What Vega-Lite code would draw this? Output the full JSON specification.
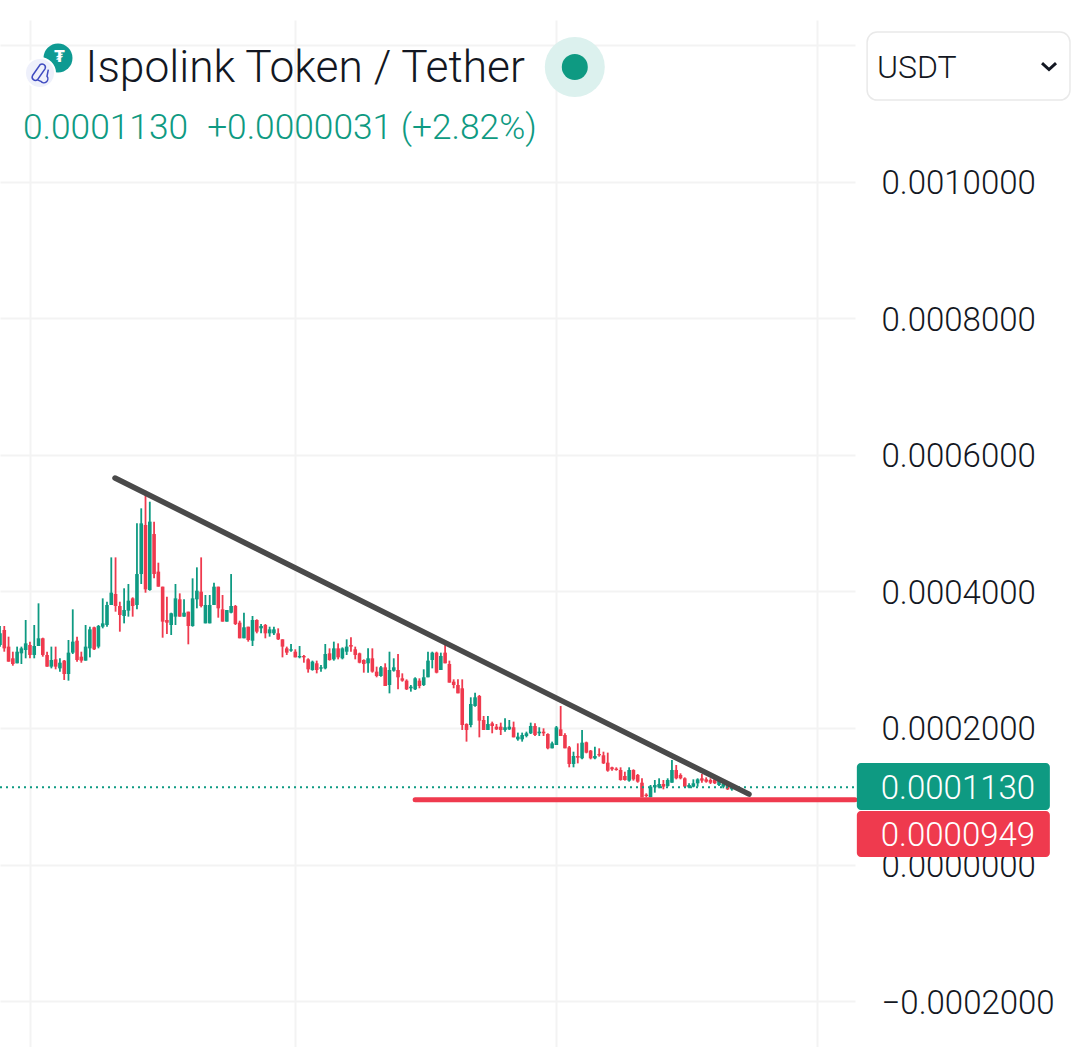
{"$schema":"https://vega.github.io/schema/vega-lite/v6.json","width":855,"height":1027,"autosize":{"type":"none"},"padding":{"left":0,"top":20,"right":219,"bottom":0},"background":"#ffffff","config":{"view":{"stroke":null}},
"datasets":{
"candles":[
{"d":0,"o":0.0003214,"h":0.0003492,"l":0.000319,"c":0.0003385},{"d":1,"o":0.0003434,"h":0.0003492,"l":0.0003116,"c":0.0003165},{"d":2,"o":0.000319,"h":0.0003336,"l":0.000297,"c":0.000297},{"d":3,"o":0.0003019,"h":0.0003116,"l":0.0002911,"c":0.0002936},{"d":4,"o":0.0002946,"h":0.000319,"l":0.0002946,"c":0.0003116},{"d":5,"o":0.0003092,"h":0.000319,"l":0.0002936,"c":0.0003165},{"d":6,"o":0.0003141,"h":0.000358,"l":0.0003019,"c":0.0003238},{"d":7,"o":0.0003214,"h":0.0003263,"l":0.0003019,"c":0.0003068},{"d":8,"o":0.0003068,"h":0.0003507,"l":0.0003019,"c":0.0003199},{"d":9,"o":0.0003199,"h":0.0003824,"l":0.0003199,"c":0.0003312},
{"d":10,"o":0.0003312,"h":0.0003321,"l":0.0003043,"c":0.0003068},{"d":11,"o":0.0003068,"h":0.0003116,"l":0.0002897,"c":0.0002897},{"d":12,"o":0.0002897,"h":0.000319,"l":0.0002872,"c":0.0002994},{"d":13,"o":0.0003004,"h":0.000319,"l":0.0002858,"c":0.0002897},{"d":14,"o":0.0002872,"h":0.0003019,"l":0.0002824,"c":0.0002955},{"d":15,"o":0.0002985,"h":0.0002994,"l":0.0002702,"c":0.0002789},{"d":16,"o":0.0002789,"h":0.0003287,"l":0.0002692,"c":0.0003102},{"d":17,"o":0.0003102,"h":0.0003736,"l":0.0003082,"c":0.0003263},{"d":18,"o":0.0003277,"h":0.0003336,"l":0.000297,"c":0.0002994},{"d":19,"o":0.0003043,"h":0.0003116,"l":0.0002955,"c":0.0002985},
{"d":20,"o":0.0002985,"h":0.0003507,"l":0.0002985,"c":0.000319},{"d":21,"o":0.0003165,"h":0.0003482,"l":0.0003033,"c":0.0003443},{"d":22,"o":0.0003473,"h":0.0003482,"l":0.0003141,"c":0.0003151},{"d":23,"o":0.000319,"h":0.0003507,"l":0.0003165,"c":0.0003492},{"d":24,"o":0.0003482,"h":0.0003897,"l":0.0003458,"c":0.0003531},{"d":25,"o":0.0003507,"h":0.0003848,"l":0.0003482,"c":0.00038},{"d":26,"o":0.00038,"h":0.0004497,"l":0.00038,"c":0.000398},{"d":27,"o":0.0003961,"h":0.0004497,"l":0.0003702,"c":0.0003785},{"d":28,"o":0.0003785,"h":0.0003848,"l":0.0003409,"c":0.0003653},{"d":29,"o":0.0003639,"h":0.0004044,"l":0.0003531,"c":0.0003726},
{"d":30,"o":0.0003717,"h":0.0004107,"l":0.0003629,"c":0.0003863},{"d":31,"o":0.0003897,"h":0.0003912,"l":0.0003629,"c":0.0003785},{"d":32,"o":0.00038,"h":0.0004995,"l":0.0003736,"c":0.0004253},{"d":33,"o":0.0004253,"h":0.0005215,"l":0.0004107,"c":0.0004995},{"d":34,"o":0.0004971,"h":0.0005473,"l":0.000398,"c":0.0004029},{"d":35,"o":0.0004019,"h":0.0005312,"l":0.0004009,"c":0.000502},{"d":36,"o":0.0004839,"h":0.000502,"l":0.000419,"c":0.0004253},{"d":37,"o":0.0004288,"h":0.0004419,"l":0.0004068,"c":0.0004068},{"d":38,"o":0.0004068,"h":0.0004068,"l":0.0003321,"c":0.0003556},{"d":39,"o":0.000358,"h":0.0003922,"l":0.0003375,"c":0.0003541},
{"d":40,"o":0.0003507,"h":0.0003687,"l":0.000336,"c":0.0003678},{"d":41,"o":0.0003629,"h":0.0004107,"l":0.0003507,"c":0.0003897},{"d":42,"o":0.0003883,"h":0.000397,"l":0.0003629,"c":0.0003629},{"d":43,"o":0.0003629,"h":0.0003883,"l":0.0003629,"c":0.0003687},{"d":44,"o":0.0003702,"h":0.0003702,"l":0.0003224,"c":0.0003492},{"d":45,"o":0.0003492,"h":0.000419,"l":0.0003482,"c":0.0003897},{"d":46,"o":0.0003883,"h":0.0004351,"l":0.0003751,"c":0.0004009},{"d":47,"o":0.0003995,"h":0.0004497,"l":0.0003765,"c":0.0003785},{"d":48,"o":0.0003531,"h":0.0003946,"l":0.0003531,"c":0.00038},{"d":49,"o":0.0003531,"h":0.0003946,"l":0.0003531,"c":0.00038},
{"d":50,"o":0.00038,"h":0.0004127,"l":0.00038,"c":0.0004068},{"d":51,"o":0.0004068,"h":0.0004068,"l":0.0003614,"c":0.0003751},{"d":52,"o":0.0003736,"h":0.0003946,"l":0.0003556,"c":0.0003556},{"d":53,"o":0.0003556,"h":0.0003726,"l":0.0003556,"c":0.0003726},{"d":54,"o":0.0003687,"h":0.0004253,"l":0.0003678,"c":0.0003785},{"d":55,"o":0.0003785,"h":0.00038,"l":0.0003507,"c":0.0003521},{"d":56,"o":0.0003541,"h":0.000357,"l":0.0003312,"c":0.0003312},{"d":57,"o":0.0003312,"h":0.0003687,"l":0.0003312,"c":0.0003473},{"d":58,"o":0.0003482,"h":0.0003482,"l":0.0003263,"c":0.0003287},{"d":59,"o":0.0003277,"h":0.0003639,"l":0.0003199,"c":0.000358},
{"d":60,"o":0.000358,"h":0.000359,"l":0.0003385,"c":0.0003409},{"d":61,"o":0.0003458,"h":0.0003521,"l":0.0003385,"c":0.0003492},{"d":62,"o":0.0003507,"h":0.0003521,"l":0.0003312,"c":0.0003385},{"d":63,"o":0.0003385,"h":0.0003482,"l":0.0003336,"c":0.0003443},{"d":64,"o":0.0003385,"h":0.0003482,"l":0.000336,"c":0.0003443},{"d":65,"o":0.0003385,"h":0.0003458,"l":0.0003287,"c":0.0003297},{"d":66,"o":0.0003297,"h":0.0003297,"l":0.0003033,"c":0.000319},{"d":67,"o":0.0003165,"h":0.000319,"l":0.0003068,"c":0.0003102},{"d":68,"o":0.0003131,"h":0.0003229,"l":0.0003116,"c":0.0003151},{"d":69,"o":0.0003116,"h":0.0003151,"l":0.0003033,"c":0.0003033},
{"d":70,"o":0.0003033,"h":0.0003199,"l":0.0003019,"c":0.0003053},{"d":71,"o":0.0003053,"h":0.0003068,"l":0.0002955,"c":0.0003033},{"d":72,"o":0.0003004,"h":0.0003019,"l":0.0002809,"c":0.0002858},{"d":73,"o":0.0002848,"h":0.0002985,"l":0.0002838,"c":0.000297},{"d":74,"o":0.0002946,"h":0.0002985,"l":0.0002799,"c":0.0002848},{"d":75,"o":0.0002868,"h":0.0002921,"l":0.0002824,"c":0.0002887},{"d":76,"o":0.0002872,"h":0.0003229,"l":0.0002858,"c":0.0003082},{"d":77,"o":0.0003092,"h":0.0003165,"l":0.0002985,"c":0.0002994},{"d":78,"o":0.0003004,"h":0.0003263,"l":0.0002985,"c":0.0003165},{"d":79,"o":0.0003165,"h":0.0003238,"l":0.0003004,"c":0.0003033},
{"d":80,"o":0.0003019,"h":0.000318,"l":0.0003004,"c":0.0003165},{"d":81,"o":0.0003116,"h":0.0003297,"l":0.0003068,"c":0.000319},{"d":82,"o":0.0003214,"h":0.0003326,"l":0.0003116,"c":0.000319},{"d":83,"o":0.0003151,"h":0.000319,"l":0.0003004,"c":0.0003068},{"d":84,"o":0.0003092,"h":0.0003102,"l":0.0002946,"c":0.0002955},{"d":85,"o":0.0002994,"h":0.0003004,"l":0.0002809,"c":0.0002936},{"d":86,"o":0.0002946,"h":0.0003165,"l":0.0002809,"c":0.0003019},{"d":87,"o":0.0003019,"h":0.0003165,"l":0.0002809,"c":0.0002824},{"d":88,"o":0.0002824,"h":0.0002897,"l":0.0002741,"c":0.000276},{"d":89,"o":0.000276,"h":0.0002907,"l":0.000275,"c":0.0002887},
{"d":90,"o":0.0002887,"h":0.0002946,"l":0.0002614,"c":0.0002614},{"d":91,"o":0.0002628,"h":0.0003116,"l":0.0002506,"c":0.0002848},{"d":92,"o":0.0002838,"h":0.0003019,"l":0.0002824,"c":0.0002887},{"d":93,"o":0.0002848,"h":0.0003082,"l":0.0002565,"c":0.0002741},{"d":94,"o":0.0002726,"h":0.0002799,"l":0.0002677,"c":0.0002692},{"d":95,"o":0.0002692,"h":0.0002711,"l":0.0002555,"c":0.0002565},{"d":96,"o":0.000258,"h":0.0002628,"l":0.0002531,"c":0.0002604},{"d":97,"o":0.0002565,"h":0.0002741,"l":0.0002555,"c":0.0002726},{"d":98,"o":0.0002692,"h":0.0002726,"l":0.000258,"c":0.0002614},{"d":99,"o":0.0002628,"h":0.0002858,"l":0.0002614,"c":0.0002741},
{"d":100,"o":0.0002741,"h":0.0003116,"l":0.0002741,"c":0.0002985},{"d":101,"o":0.0002994,"h":0.0003116,"l":0.0002872,"c":0.0003102},{"d":102,"o":0.0003102,"h":0.0003116,"l":0.0002799,"c":0.0002809},{"d":103,"o":0.0002848,"h":0.0003102,"l":0.0002848,"c":0.0003053},{"d":104,"o":0.0003102,"h":0.0003214,"l":0.0002946,"c":0.0002946},{"d":105,"o":0.0002936,"h":0.0002985,"l":0.0002663,"c":0.0002663},{"d":106,"o":0.0002677,"h":0.0002711,"l":0.000258,"c":0.0002628},{"d":107,"o":0.0002628,"h":0.0002711,"l":0.0002506,"c":0.0002506},{"d":108,"o":0.000258,"h":0.0002711,"l":0.000197,"c":0.0002043},{"d":109,"o":0.0002057,"h":0.0002067,"l":0.0001799,"c":0.000197},
{"d":110,"o":0.0002043,"h":0.0002448,"l":0.0002009,"c":0.000235},{"d":111,"o":0.0002321,"h":0.0002516,"l":0.0002311,"c":0.0002448},{"d":112,"o":0.0002467,"h":0.0002482,"l":0.0001862,"c":0.0002106},{"d":113,"o":0.0002116,"h":0.0002175,"l":0.000197,"c":0.000197},{"d":114,"o":0.000197,"h":0.0002175,"l":0.000197,"c":0.0002057},{"d":115,"o":0.0002067,"h":0.0002092,"l":0.0001921,"c":0.0002028},{"d":116,"o":0.0002018,"h":0.0002057,"l":0.000197,"c":0.0001979},{"d":117,"o":0.0002018,"h":0.0002077,"l":0.0001896,"c":0.000197},{"d":118,"o":0.000197,"h":0.000214,"l":0.0001945,"c":0.0002009},{"d":119,"o":0.0001979,"h":0.0002116,"l":0.000197,"c":0.0002018},
{"d":120,"o":0.0002009,"h":0.0002092,"l":0.0001862,"c":0.0001862},{"d":121,"o":0.0001833,"h":0.0001931,"l":0.0001813,"c":0.0001872},{"d":122,"o":0.0001833,"h":0.0001931,"l":0.0001799,"c":0.0001896},{"d":123,"o":0.0001882,"h":0.0001945,"l":0.0001862,"c":0.0001921},{"d":124,"o":0.0001921,"h":0.0002077,"l":0.0001911,"c":0.0002028},{"d":125,"o":0.0002028,"h":0.0002067,"l":0.0001882,"c":0.0001896},{"d":126,"o":0.0001921,"h":0.0002009,"l":0.0001882,"c":0.0001945},{"d":127,"o":0.0001945,"h":0.0001994,"l":0.0001882,"c":0.0001921},{"d":128,"o":0.0001911,"h":0.0001921,"l":0.0001687,"c":0.0001701},{"d":129,"o":0.0001701,"h":0.0001799,"l":0.0001701,"c":0.0001774},
{"d":130,"o":0.000175,"h":0.0002028,"l":0.000175,"c":0.0002008},{"d":131,"o":0.0001979,"h":0.0002321,"l":0.0001882,"c":0.0001882},{"d":132,"o":0.0001896,"h":0.0001921,"l":0.0001701,"c":0.0001701},{"d":133,"o":0.0001716,"h":0.0001735,"l":0.0001423,"c":0.0001472},{"d":134,"o":0.0001472,"h":0.0001652,"l":0.0001423,"c":0.0001589},{"d":135,"o":0.0001589,"h":0.0001774,"l":0.0001481,"c":0.0001564},{"d":136,"o":0.0001555,"h":0.0001969,"l":0.000154,"c":0.0001784},{"d":137,"o":0.0001789,"h":0.0001799,"l":0.0001628,"c":0.0001638},{"d":138,"o":0.0001667,"h":0.0001677,"l":0.000154,"c":0.0001555},{"d":139,"o":0.0001555,"h":0.0001725,"l":0.000154,"c":0.0001589},
{"d":140,"o":0.0001618,"h":0.0001701,"l":0.0001579,"c":0.0001599},{"d":141,"o":0.0001599,"h":0.0001652,"l":0.0001472,"c":0.0001481},{"d":142,"o":0.0001491,"h":0.0001638,"l":0.0001359,"c":0.0001374},{"d":143,"o":0.0001423,"h":0.0001433,"l":0.0001374,"c":0.0001394},{"d":144,"o":0.0001403,"h":0.0001423,"l":0.0001374,"c":0.0001384},{"d":145,"o":0.0001384,"h":0.0001423,"l":0.0001228,"c":0.0001237},{"d":146,"o":0.0001296,"h":0.0001359,"l":0.0001228,"c":0.0001237},{"d":147,"o":0.0001228,"h":0.0001423,"l":0.0001213,"c":0.0001384},{"d":148,"o":0.0001384,"h":0.0001394,"l":0.0001228,"c":0.0001247},{"d":149,"o":0.0001311,"h":0.0001325,"l":0.0001198,"c":0.0001213},
{"d":150,"o":0.0001198,"h":0.0001262,"l":0.0000984,"c":0.0000984},{"d":151,"o":0.0001023,"h":0.0001042,"l":0.0000984,"c":0.0001003},{"d":152,"o":0.0000984,"h":0.0001164,"l":0.0000984,"c":0.000114},{"d":153,"o":0.000113,"h":0.0001237,"l":0.0001052,"c":0.0001164},{"d":154,"o":0.000113,"h":0.0001262,"l":0.0001115,"c":0.0001179},{"d":155,"o":0.0001179,"h":0.0001237,"l":0.0001101,"c":0.000114},{"d":156,"o":0.000115,"h":0.0001262,"l":0.000114,"c":0.0001237},{"d":157,"o":0.0001198,"h":0.000153,"l":0.0001198,"c":0.0001384},{"d":158,"o":0.0001384,"h":0.0001457,"l":0.0001247,"c":0.0001262},{"d":159,"o":0.0001311,"h":0.0001335,"l":0.0001247,"c":0.0001262},
{"d":160,"o":0.0001262,"h":0.0001276,"l":0.000113,"c":0.000114},{"d":161,"o":0.000113,"h":0.0001189,"l":0.0001115,"c":0.0001164},{"d":162,"o":0.000114,"h":0.0001247,"l":0.000113,"c":0.0001189},{"d":163,"o":0.0001189,"h":0.0001262,"l":0.000114,"c":0.0001247},{"d":164,"o":0.0001262,"h":0.0001325,"l":0.0001198,"c":0.0001228},{"d":165,"o":0.0001247,"h":0.0001276,"l":0.0001198,"c":0.0001213},{"d":166,"o":0.0001237,"h":0.0001262,"l":0.0001179,"c":0.0001198},{"d":167,"o":0.0001247,"h":0.0001311,"l":0.0001179,"c":0.0001189},{"d":168,"o":0.0001164,"h":0.0001247,"l":0.000115,"c":0.0001228},{"d":169,"o":0.000114,"h":0.0001198,"l":0.0001115,"c":0.0001179},
{"d":170,"o":0.0001164,"h":0.0001179,"l":0.0001091,"c":0.0001101},{"d":171,"o":0.0001101,"h":0.000115,"l":0.0001081,"c":0.000113}
],
"last":[{"d":0,"p":0.000113},{"d":199.77,"p":0.000113}],
"trend":[{"d":26.87,"p":0.0005659},{"d":175,"p":0.000103}],
"support":[{"d":97,"p":0.0000949},{"d":199.77,"p":0.0000949}],
"tagUp":[{"d":200.2,"d2":245.3,"p":0.0001486,"p2":0.0000798}],
"tagDown":[{"d":200.2,"d2":245.3,"p":0.0000783,"p2":0.000011}],
"tagText":[{"d":205.8,"p":0.0001101,"t":"0.0001130"},{"d":205.8,"p":0.0000415,"t":"0.0000949"}],
"title":[{"d":20.0,"p":0.0011654,"t":"Ispolink Token / Tether"}],
"sub":[{"d":5.37,"p":0.0010784,"t":"0.0001130"},{"d":48.4,"p":0.0010784,"t":"+0.0000031 (+2.82%)"}],
"usdtIcon":[{"d":13.55,"p":0.0011808}],
"usdtGlyph":[{"d":13.9,"p":0.0011825,"t":"₮"}],
"ispoIcon":[{"d":9.35,"p":0.0011589}],
"halo":[{"d":134.3,"p":0.0011676}],
"box":[{"d":202.6,"d2":250,"p":0.0012189,"p2":0.0011193}],
"boxText":[{"d":204.9,"p":0.0011669,"t":"USDT"}],
"chev":[{"d":245.1,"p":0.0011691}]
},
"encoding":{
"x":{"field":"d","type":"quantitative","title":null,"scale":{"domain":[0,199.77],"nice":false,"zero":false},"axis":{"values":[7,69,130,191],"labels":false,"ticks":false,"domain":false,"grid":true,"gridColor":"#f3f3f3","gridWidth":2}},
"y":{"field":"p","type":"quantitative","title":null,"scale":{"domain":[-0.0002672,0.0012365],"nice":false,"zero":false},"axis":{"orient":"right","values":[-0.0002,0,0.0002,0.0004,0.0006,0.0008,0.001,0.0012],"labelExpr":"datum.value>0.0011?'':format(datum.value,'.7f')","ticks":false,"domain":false,"grid":true,"gridColor":"#f3f3f3","gridWidth":2,"labelPadding":26,"labelOffset":2,"labelFont":"Roboto","labelFontSize":33,"labelFontWeight":300,"labelColor":"#131722","labelOverlap":false,"labelBound":false,"labelFlush":false,"labelLimit":300}}
},
"layer":[
{"data":{"name":"candles"},"mark":{"type":"rule","strokeWidth":1.8},"encoding":{"y":{"field":"l","type":"quantitative","title":null,"scale":{"domain":[-0.0002672,0.0012365],"nice":false,"zero":false}},"y2":{"field":"h"},"color":{"condition":{"test":"datum.c>=datum.o","value":"#0e9a82"},"value":"#ef3a4e"}}},
{"data":{"name":"candles"},"mark":{"type":"rule","strokeWidth":3.6},"encoding":{"y":{"field":"o","type":"quantitative","title":null,"scale":{"domain":[-0.0002672,0.0012365],"nice":false,"zero":false}},"y2":{"field":"c"},"color":{"condition":{"test":"datum.c>=datum.o","value":"#0e9a82"},"value":"#ef3a4e"}}},
{"data":{"name":"last"},"mark":{"type":"line","color":"#0e9a82","strokeWidth":2,"strokeDash":[2,4]}},
{"data":{"name":"trend"},"mark":{"type":"line","color":"#4a4a4a","strokeWidth":5.5,"strokeCap":"round"}},
{"data":{"name":"support"},"mark":{"type":"line","color":"#ef3a4e","strokeWidth":5,"strokeCap":"round"}},
{"data":{"name":"tagUp"},"mark":{"type":"rect","color":"#0e9a82","cornerRadius":4},"encoding":{"x2":{"field":"d2"},"y2":{"field":"p2"}}},
{"data":{"name":"tagDown"},"mark":{"type":"rect","color":"#ef3a4e","cornerRadius":4},"encoding":{"x2":{"field":"d2"},"y2":{"field":"p2"}}},
{"data":{"name":"tagText"},"mark":{"type":"text","align":"left","baseline":"middle","font":"Roboto","fontSize":33,"fontWeight":300,"color":"#ffffff"},"encoding":{"text":{"field":"t"}}},
{"data":{"name":"title"},"mark":{"type":"text","align":"left","baseline":"middle","font":"Roboto","fontSize":44.3,"fontWeight":300,"color":"#131722"},"encoding":{"text":{"field":"t"}}},
{"data":{"name":"sub"},"mark":{"type":"text","align":"left","baseline":"middle","font":"Roboto","fontSize":35.3,"fontWeight":300,"color":"#0e9a82"},"encoding":{"text":{"field":"t"}}},
{"data":{"name":"usdtIcon"},"mark":{"type":"point","shape":"circle","filled":true,"size":841,"color":"#0e9a92","opacity":1}},
{"data":{"name":"usdtGlyph"},"mark":{"type":"text","align":"center","baseline":"middle","font":"DejaVu Sans","fontSize":15,"fontWeight":"bold","color":"#ffffff"},"encoding":{"text":{"field":"t"}}},
{"data":{"name":"ispoIcon"},"mark":{"type":"point","shape":"circle","filled":true,"size":900,"fill":"#eef0fb","stroke":"#ffffff","strokeWidth":2,"opacity":1}},
{"data":{"name":"ispoIcon"},"mark":{"type":"point","filled":false,"size":1100,"stroke":"#3f4bc0","strokeWidth":1.5,"opacity":1,"shape":"M-0.45,0.15 L0,-0.5 A0.2,0.2 0 0 1 0.3,-0.25 L-0.15,0.4 A0.2,0.2 0 0 1 -0.45,0.15 Z M-0.2,0.4 L0.05,0.5 A0.2,0.2 0 0 0 0.42,0.2 L0.5,-0.2"}},
{"data":{"name":"halo"},"mark":{"type":"point","shape":"circle","filled":true,"size":3600,"color":"#dcf1ee","opacity":1}},
{"data":{"name":"halo"},"mark":{"type":"point","shape":"circle","filled":true,"size":676,"color":"#0e9a82","opacity":1}},
{"data":{"name":"box"},"mark":{"type":"rect","fill":"#ffffff","stroke":"#e9e9e9","strokeWidth":1.5,"cornerRadius":10},"encoding":{"x2":{"field":"d2"},"y2":{"field":"p2"}}},
{"data":{"name":"boxText"},"mark":{"type":"text","align":"left","baseline":"middle","font":"Roboto","fontSize":32,"fontWeight":300,"color":"#131722"},"encoding":{"text":{"field":"t"}}},
{"data":{"name":"chev"},"mark":{"type":"point","filled":false,"size":196,"stroke":"#131722","strokeWidth":3,"opacity":1,"shape":"M-1,-0.4 L0,0.5 L1,-0.4"}}
]}
